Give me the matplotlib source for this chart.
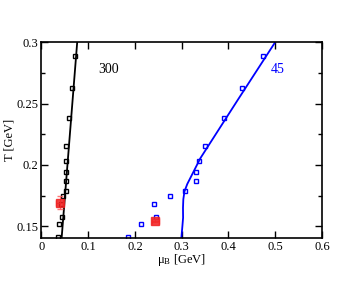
import numpy as np
import matplotlib
matplotlib.use("Agg")
import matplotlib.pyplot as plt
from matplotlib.ticker import MultipleLocator

plt.rcParams['font.family'] = ['Liberation Serif', 'DejaVu Serif']
plt.rcParams['mathtext.fontset'] = 'stix'

# temperatures of the lattice points (shared by both sets)
T_pts = [0.1417, 0.152, 0.1577, 0.1683, 0.1751, 0.1786, 0.1873, 0.1943,
         0.2033, 0.2154, 0.2382, 0.2629, 0.2886]
mu_300 = [0.0348, 0.0376, 0.0433, 0.0411, 0.0454, 0.0525, 0.0518, 0.0518,
          0.0518, 0.0532, 0.0589, 0.0645, 0.0716]
mu_45 = [0.1858, 0.2135, 0.2461, 0.2411, 0.2752, 0.3064, 0.3305, 0.3312,
         0.3376, 0.3489, 0.3908, 0.4291, 0.4730]

# freeze-out curves
line300_mu = [0.0433, 0.0766]
line300_T = [0.1405, 0.30]
line45_mu = [0.2993, 0.3015, 0.3030, 0.3028, 0.3035, 0.3060, 0.3120, 0.3200,
             0.3300, 0.3400, 0.4200, 0.5000]
line45_T = [0.1405, 0.1500, 0.1570, 0.1650, 0.1720, 0.1785, 0.1845, 0.1905,
            0.1980, 0.2055, 0.2530, 0.3000]

# experimental points
exp_mu = [0.039, 0.244]
exp_T = [0.1694, 0.1547]
exp_muerr = [0.007, 0.008]
exp_Terr = [0.0052, 0.0015]

fig = plt.figure(figsize=(3.63, 2.81), dpi=100)
ax = fig.add_axes([0.114, 0.153, 0.773, 0.697])

ax.plot(line300_mu, line300_T, color='black', lw=1.3)
ax.plot(line45_mu, line45_T, color='blue', lw=1.3)
ax.plot(mu_300, T_pts, 's', ms=3.2, mfc='none', mec='black', mew=1.0)
ax.plot(mu_45, T_pts, 's', ms=3.2, mfc='none', mec='blue', mew=1.0)
ax.errorbar(exp_mu, exp_T, xerr=exp_muerr, yerr=exp_Terr, fmt='s', ms=6,
            color='#f02020', ecolor='#ff6060', elinewidth=0.8, capsize=2, alpha=0.85)

ax.text(0.1426, 0.278, '300', color='black', fontsize=10, ha='center', va='center')
ax.text(0.506, 0.278, '45', color='blue', fontsize=10, ha='center', va='center')

ax.set_xlim(0, 0.6)
ax.set_ylim(0.1405, 0.3)
ax.yaxis.set_minor_locator(MultipleLocator(0.025))
ax.set_xticks([0, 0.1, 0.2, 0.3, 0.4, 0.5, 0.6])
ax.set_xticklabels(['0', '0.1', '0.2', '0.3', '0.4', '0.5', '0.6'])
ax.set_yticks([0.15, 0.2, 0.25, 0.3])
ax.set_yticklabels(['0.15', '0.2', '0.25', '0.3'])
ax.tick_params(which='both', direction='in', top=True, right=True, labelsize=9, pad=2)
ax.tick_params(which='major', length=5, width=1)
ax.tick_params(which='minor', length=3, width=1)
for s in ax.spines.values():
    s.set_linewidth(1.2)

ax.set_xlabel(r'$\mathregular{\mu_B}$ [GeV]', fontsize=9)
ax.set_ylabel('T [GeV]', fontsize=9)
ax.xaxis.set_label_coords(0.5, -0.072)
ax.yaxis.set_label_coords(-0.094, 0.5)

fig.savefig('out.png', dpi=100)
